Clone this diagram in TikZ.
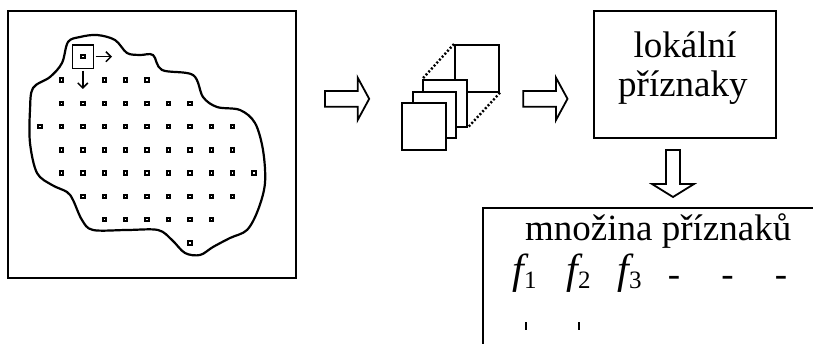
\documentclass[tikz,border=0pt]{standalone}
\usepackage{fontspec}
\setmainfont{Liberation Serif}
\usetikzlibrary{arrows.meta}
\begin{document}
\begin{tikzpicture}[x=1pt,y=-1pt,
  thinbox/.style={draw,line width=1.5pt,inner sep=0pt},
  sq/.style={draw,fill=white,line width=2pt,minimum width=43.4pt,minimum height=46.7pt,inner sep=0pt},
  dotsq/.style={draw,line width=2pt,minimum size=3.4pt,inner sep=0pt},
  hollow/.style={draw,line width=1.8pt,fill=white,line join=miter},
  big/.style={font=\fontsize{37}{40}\selectfont,inner sep=0pt},
  fsym/.style={inner sep=0pt,anchor=base west,font=\fontsize{42}{44}\selectfont},
  smallarrow/.style={line width=1.5pt,-{Straight Barb[length=5pt,width=10pt]}},
  pics/harrow/.style={code={\draw[hollow] (0,-7.85) -- (32.7,-7.85) -- (32.7,-21.15) -- (44.2,0) -- (32.7,21.15) -- (32.7,7.85) -- (0,7.85) -- cycle;}},
  pics/varrow/.style={code={\draw[hollow] (-7,0) -- (-7,34) -- (-21,34) -- (0,47) -- (21,34) -- (7,34) -- (7,0) -- cycle;}}
]
\useasboundingbox (0,0) rectangle (813,344);
\clip (0,0) rectangle (813,344);

% left frame with blob
\node[thinbox, minimum width=288pt, minimum height=267pt] (frame) at (152,144.5) {};
\draw[line width=2.2pt] plot[smooth cycle, tension=0.55] coordinates {
  (68,42) (80,37) (97,35) (115,40) (127,53) (140,55) (153,55) (162,70) (193,75)
  (203,97) (217,107) (240,110) (255,123) (263,150) (265,183) (258,210)
  (247,230) (230,238) (213,247) (200,255) (185,253) (172,240) (158,230)
  (127,230) (93,230) (82,220) (73,200) (67,192) (52,185) (37,173)
  (30,143) (30,110) (33,88) (50,77) (62,63)};

% grid of small squares
\foreach \r/\cols in {0/{1,3,4,5}, 1/{1,2,3,4,5,6,7}, 2/{0,1,2,3,4,5,6,7,8,9},
  3/{1,2,3,4,5,6,7,8,9}, 4/{1,2,3,4,5,6,7,8,9,10}, 5/{2,3,4,5,6,7,8,9},
  6/{3,4,5,6,7,8}, 7/{7}} {
  \foreach \c in \cols {
    \node[dotsq] (d-\r-\c) at ({40+21.4*\c},{80+23.3*\r}) {};
  }
}
\node[dotsq] (wdot) at (82.8,56.7) {};
\node[draw,line width=1.6pt,minimum width=21pt,minimum height=23.3pt,inner sep=0pt] (win) at (82.8,56.7) {};
\coordinate (wr) at (112,56.7);
\coordinate (wd) at (82.8,89);
\draw[smallarrow] (win.east) ++(1.5,0) -- (wr);
\draw[smallarrow] (win.south) ++(0,1.5) -- (wd);

% hollow arrows
\pic at (325,98.85) {harrow};
\pic at (523.3,98.85) {harrow};
\pic at (673,150) {varrow};

% stacked squares
\node[sq, minimum width=44pt] (back) at (477,68.35) {};
\node[sq] (sa) at (445,103.35) {};
\draw[line width=2.4pt, dash pattern=on 2pt off 2pt] (back.north west) -- (sa.north west);
\draw[line width=2.4pt, dash pattern=on 2pt off 2pt] (back.south east) -- (sa.south east);
\node[sq] (sb) at (434.35,115) {};
\node[sq] (sc) at (424,126.35) {};

% local features box
\node[draw,line width=1.8pt,minimum width=182pt,minimum height=126.7pt,inner sep=0pt] (lok) at (685,74.35) {};
\node[big,anchor=base west] (lok1) at (633.5,57.3) {lokální};
\node[big,anchor=base west] (lok2) at (618,97) {příznaky};

% feature set box
\draw[line width=1.8pt] (830,208.3) -| (483.3,360);
\node[big,anchor=base west] (mn) at (525,241) {množina příznaků};
\node[fsym] (f1) at (512,284) {\itshape f\kern0.3pt\raisebox{-5pt}{\fontsize{25}{27}\selectfont\upshape 1}};
\node[fsym] (f2) at (566,284) {\itshape f\kern0.3pt\raisebox{-5pt}{\fontsize{25}{27}\selectfont\upshape 2}};
\node[fsym] (f3) at (617,284) {\itshape f\kern0.3pt\raisebox{-5pt}{\fontsize{25}{27}\selectfont\upshape 3}};
\node[big,anchor=base] (h1) at (674,287) {-};
\node[big,anchor=base] (h2) at (727.5,287) {-};
\node[big,anchor=base] (h3) at (781,287) {-};
\coordinate (t1a) at (526,322);
\coordinate (t1b) at (526,330);
\coordinate (t2a) at (579.3,322);
\coordinate (t2b) at (579.3,330);
\draw[line width=1.8pt] (t1a) -- (t1b);
\draw[line width=1.8pt] (t2a) -- (t2b);
\end{tikzpicture}
\end{document}
